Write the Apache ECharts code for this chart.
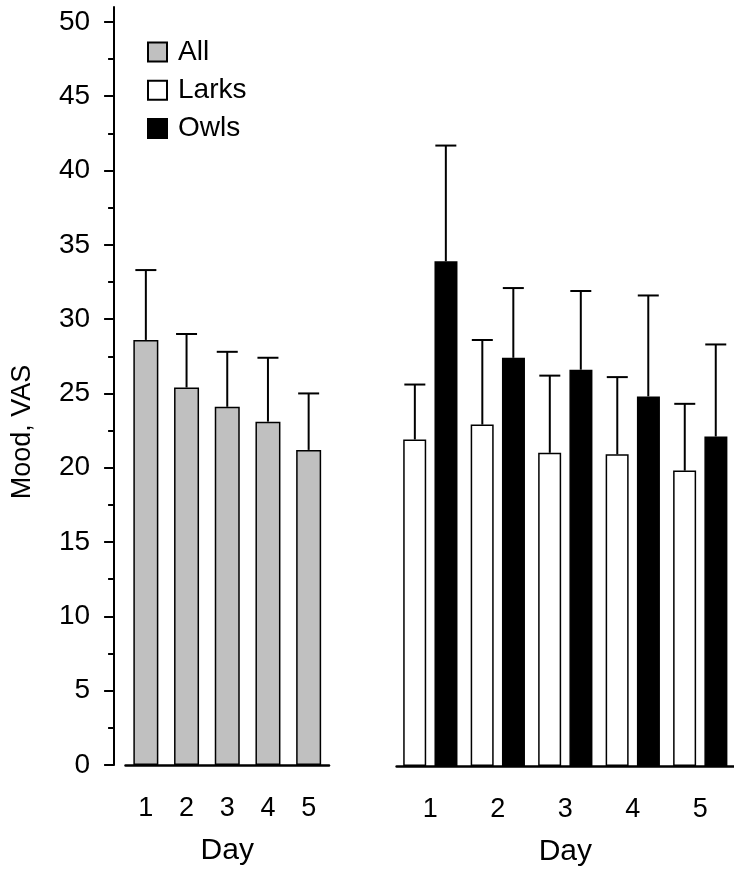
<!DOCTYPE html>
<html>
<head>
<meta charset="utf-8">
<script src="https://cdn.jsdelivr.net/npm/echarts@6/dist/echarts.min.js"></script>
<style>
  html, body { margin: 0; padding: 0; background: #fff; }
  #myChart { width: 734px; height: 872px; }
</style>
</head>
<body>
<div id="myChart"></div>
<script>
// data
const days = ['1', '2', '3', '4', '5'];
const allMean = [28.6, 25.4, 24.1, 23.1, 21.2];
const allErr = [4.7, 3.6, 3.7, 4.3, 3.8];
const larksMean = [22.0, 23.0, 21.1, 21.0, 19.9];
const larksErr = [3.7, 5.7, 5.2, 5.2, 4.5];
const owlsMean = [34.0, 27.5, 26.7, 24.9, 22.2];
const owlsErr = [7.8, 4.7, 5.3, 6.8, 6.2];
const majorTicks = [0, 5, 10, 15, 20, 25, 30, 35, 40, 45, 50];
const minorTicks = [2.5, 7.5, 12.5, 17.5, 22.5, 27.5, 32.5, 37.5, 42.5, 47.5];

const myChart = echarts.init(document.getElementById('myChart'));

const FONT = 'Liberation Sans';
const CAP = 10.5; // half width of error bar cap
const PAIR_SHIFT = 15.5; // larks / owls bar centre offset from day tick

function errorBars(means, errs, shift) {
    return function (params, api) {
        const i = api.value(0);
        const base = api.coord([i, means[i]]);
        const top = api.coord([i, means[i] + errs[i]]);
        const x = base[0] + shift;
        const style = { stroke: '#000', lineWidth: 2 };
        return {
            type: 'group',
            children: [
                { type: 'line', shape: { x1: x, y1: base[1], x2: x, y2: top[1] }, style: style },
                { type: 'line', shape: { x1: x - CAP, y1: top[1], x2: x + CAP, y2: top[1] }, style: style }
            ]
        };
    };
}

const catAxis = {
    type: 'category',
    data: days,
    boundaryGap: true,
    axisLine: { lineStyle: { color: '#000', width: 2.5 } },
    axisTick: { alignWithLabel: true, length: 10, lineStyle: { color: '#000', width: 2 } },
    axisLabel: { color: '#000', fontSize: 27, fontFamily: FONT, margin: 30 },
    name: 'Day',
    nameLocation: 'middle',
    nameGap: 71,
    nameTextStyle: { color: '#000', fontSize: 30, fontFamily: FONT }
};

const option = {
    animation: false,
    backgroundColor: '#fff',
    textStyle: { fontFamily: FONT },
    grid: [
        { left: 125.5, width: 203.5, top: 7, height: 758 },
        { left: 396.6, width: 343.5, top: 9, height: 758 }
    ],
    legend: {
        data: ['All', 'Larks', 'Owls'],
        orient: 'vertical',
        left: 147,
        top: 38,
        padding: 0,
        itemWidth: 19,
        itemHeight: 19,
        itemGap: 10.3,
        icon: 'rect',
        textStyle: { color: '#000', fontSize: 28, fontFamily: FONT, padding: [0, 0, 0, 6] }
    },
    graphic: [{
        type: 'text',
        x: 23,
        y: 432,
        rotation: Math.PI / 2,
        style: {
            text: 'Mood, VAS',
            font: '27px "Liberation Sans"',
            fill: '#000',
            align: 'center',
            verticalAlign: 'middle'
        }
    }],
    xAxis: [
        Object.assign({ gridIndex: 0 }, catAxis),
        Object.assign({ gridIndex: 1 }, catAxis)
    ],
    yAxis: [
        {
            gridIndex: 0, type: 'value', min: 0, max: 51, position: 'left', offset: 11.4,
            splitLine: { show: false },
            axisLine: { show: true, lineStyle: { color: '#000', width: 2 } },
            axisTick: { show: true, customValues: majorTicks, length: 10, lineStyle: { color: '#000', width: 2 } },
            axisLabel: { customValues: majorTicks, color: '#000', fontSize: 28, fontFamily: FONT, margin: 24 }
        },
        {
            gridIndex: 0, type: 'value', min: 0, max: 51, position: 'left', offset: 11.4,
            splitLine: { show: false },
            axisLine: { show: false },
            axisTick: { show: true, customValues: minorTicks, length: 6, lineStyle: { color: '#000', width: 2 } },
            axisLabel: { show: false }
        },
        {
            gridIndex: 1, type: 'value', min: 0, max: 51, show: false
        }
    ],
    series: [
        {
            name: 'All', type: 'bar', xAxisIndex: 0, yAxisIndex: 0,
            data: allMean, barWidth: 25,
            itemStyle: { color: '#c0c0c0', borderColor: '#000', borderWidth: 1.5 }
        },
        {
            name: 'Larks', type: 'bar', xAxisIndex: 1, yAxisIndex: 2,
            data: larksMean, barWidth: 23, barGap: '36%',
            itemStyle: { color: '#fff', borderColor: '#000', borderWidth: 1.5 }
        },
        {
            name: 'Owls', type: 'bar', xAxisIndex: 1, yAxisIndex: 2,
            data: owlsMean, barWidth: 23, barGap: '36%',
            itemStyle: { color: '#000', borderColor: '#000', borderWidth: 1.5 }
        },
        {
            type: 'custom', xAxisIndex: 0, yAxisIndex: 0, z: 3,
            data: days.map((d, i) => [i]),
            renderItem: errorBars(allMean, allErr, 0)
        },
        {
            type: 'custom', xAxisIndex: 1, yAxisIndex: 2, z: 3,
            data: days.map((d, i) => [i]),
            renderItem: errorBars(larksMean, larksErr, -PAIR_SHIFT)
        },
        {
            type: 'custom', xAxisIndex: 1, yAxisIndex: 2, z: 3,
            data: days.map((d, i) => [i]),
            renderItem: errorBars(owlsMean, owlsErr, PAIR_SHIFT)
        }
    ]
};

myChart.setOption(option);
</script>
</body>
</html>
